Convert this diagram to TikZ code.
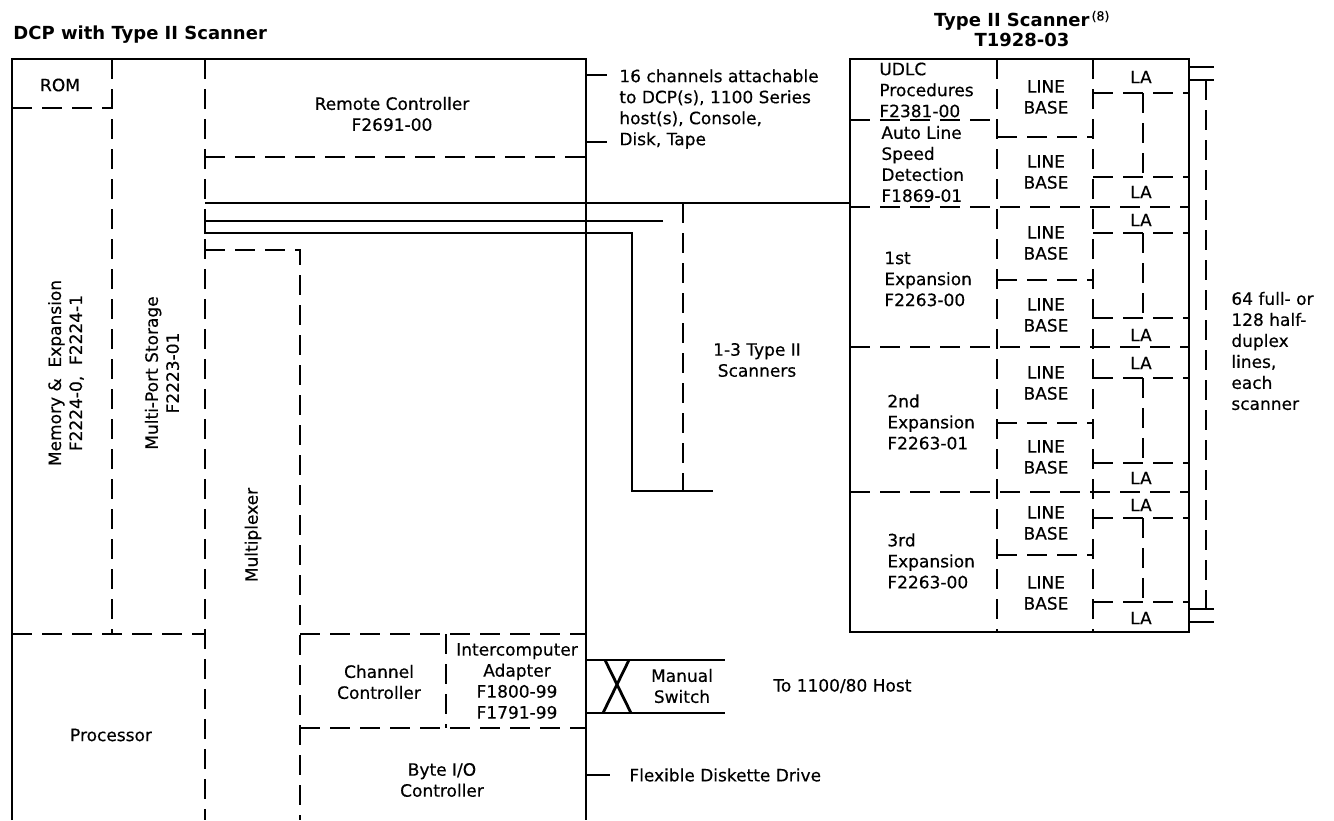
\documentclass[tikz,border=0pt]{standalone}
\usepackage{fontspec}
\setmainfont{DejaVu Sans}[UprightFeatures={FakeBold=0.4}]
\begin{document}
\begin{tikzpicture}[x=1pt,y=-1pt,line width=2.8pt,
		part/.style={dash pattern=on 20pt off 10pt},
		txt/.style={align=center,inner sep=0pt,font=\fontsize{17}{21}\selectfont},
		ltxt/.style={txt,align=left},
		ttl/.style={align=center,inner sep=0pt,font=\bfseries\fontsize{18}{20}\selectfont}]
	\useasboundingbox (0,0) rectangle (1334,820);
	% DCP side
	\node[ttl,anchor=west] (dcptitle) at (12,35) {DCP with Type II Scanner};
	\draw (12,820) -- (12,59) -- (586,59) -- (586,820);
	\draw[part] (12,108) -- (112,108);
	\draw[part] (112,59) -- (112,634);
	\draw[part] (12,634) -- (205,634);
	\draw[part] (205,59) -- (205,820);
	\draw[part] (205,157) -- (586,157);
	\draw[part] (205,250) -- (300,250) -- (300,820);
	\draw[part] (300,634) -- (586,634);
	\draw[part] (300,728) -- (586,728);
	\draw[part] (446,634) -- (446,728);
	\node[txt] (rom) at (60,85) {ROM};
	\node[txt,rotate=90] (memory) at (66,373) {Memory \&\ \ Expansion\\F2224-0,\ \ F2224-1};
	\node[txt,rotate=90] (mps) at (162,373) {Multi-Port Storage\\F2223-01};
	\node[txt,rotate=90] (mux) at (253,535) {Multiplexer};
	\node[txt] (remote) at (392,114) {Remote Controller\\F2691-00};
	\node[txt] (chan) at (379,682) {Channel\\Controller};
	\node[txt] (ica) at (517,681) {Intercomputer\\Adapter\\F1800-99\\F1791-99};
	\node[txt] (proc) at (111,735) {Processor};
	\node[txt] (byteio) at (442,780) {Byte I/O\\Controller};
	% buses to the scanners
	\draw (205,203) -- (850,203);
	\draw (663,221) -- (205,221) -- (205,233) -- (632,233) -- (632,491) -- (713,491);
	\draw[part] (683,203) -- (683,491);
	\node[txt] (count) at (757,360) {1-3 Type II\\Scanners};
	% outside the DCP
	\draw (586,75) -- (607,75);
	\draw (586,142) -- (607,142);
	\node[ltxt,anchor=west] (chans) at (618,109) {16 channels attachable\\to DCP(s), 1100 Series\\host(s), Console,\\Disk, Tape};
	\draw (586,660) -- (725,660);
	\draw (586,713) -- (725,713);
	\draw (605,660) -- (631,713);
	\draw (629,660) -- (603,713);
	\node[txt] (switch) at (682,686) {Manual\\Switch};
	\node[txt,anchor=west] (host) at (772,686) {To 1100/80 Host};
	\draw (586,775) -- (610,775);
	\node[txt,anchor=west] (disk) at (628,775) {Flexible Diskette Drive};
	% Type II scanner
	\node[ttl] (sctitle) at (1022,29) {Type II Scanner\textsuperscript{\normalfont\,(8)}\\T1928-03};
	\draw (850,59) rectangle (1189,632);
	\draw[part] (997,59) -- (997,632);
	\draw[part] (1093,59) -- (1093,632);
	\draw[part] (850,120) -- (997,120);
	\foreach \y in {207,347,492}
		\draw[part] (850,\y) -- (1189,\y);
	\foreach \y in {137,280,423,555}
		\draw[part] (997,\y) -- (1093,\y);
	\foreach \y [count=\k] in {97,172,243,315,383,457,523,593}
		\node[txt] (lb\k) at (1046,\y) {LINE\\BASE};
	\foreach \la/\a/\b/\lb [count=\k] in {77/93/177/192,220/233/318/335,363/378/463/478,505/518/602/618}{
		\draw[part] (1093,\a) -- (1189,\a);
		\draw[part] (1143,\a) -- (1143,\b);
		\draw[part] (1093,\b) -- (1189,\b);
		\node[txt] (lat\k) at (1141,\la) {LA};
		\node[txt] (lab\k) at (1141,\lb) {LA};
	}
	\node[ltxt,anchor=west] (udlc) at (878,90) {UDLC\\Procedures\\F2381-00};
	\node[ltxt,anchor=west] (auto) at (880,164) {Auto Line\\Speed\\Detection\\F1869-01};
	\node[ltxt,anchor=west] (exp1) at (883,279) {1st\\Expansion\\F2263-00};
	\node[ltxt,anchor=west] (exp2) at (886,422) {2nd\\Expansion\\F2263-01};
	\node[ltxt,anchor=west] (exp3) at (886,561) {3rd\\Expansion\\F2263-00};
	% lines out of the scanner
	\draw (1189,67) -- (1214,67);
	\draw (1189,80) -- (1214,80);
	\draw[part] (1206,80) -- (1206,609);
	\draw (1189,609) -- (1214,609);
	\draw (1189,622) -- (1214,622);
	\node[ltxt,anchor=west] (lines) at (1230,351) {64 full- or\\128 half-\\duplex\\lines,\\each\\scanner};
\end{tikzpicture}
\end{document}
